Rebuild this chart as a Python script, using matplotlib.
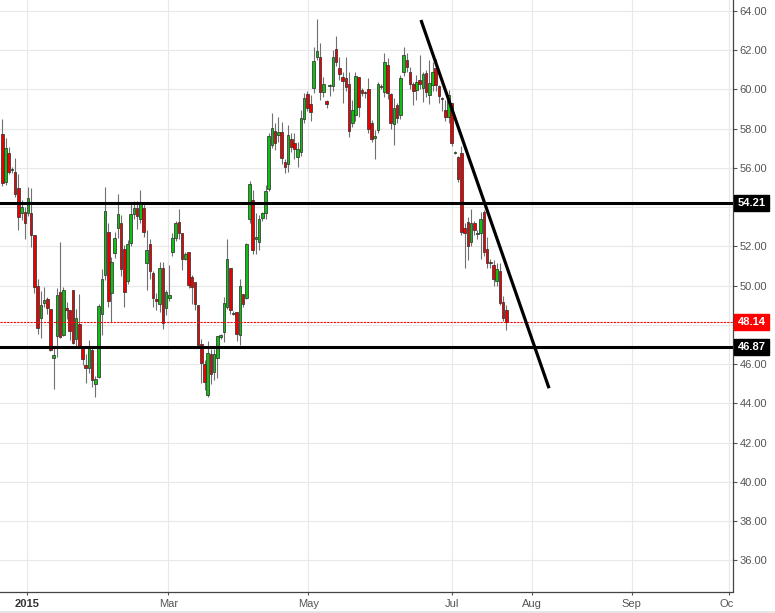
#!/usr/bin/env python

import matplotlib
matplotlib.use('Agg')
import matplotlib.pyplot as plt
from matplotlib.ticker import FuncFormatter
from matplotlib.transforms import Bbox, TransformedBbox
from matplotlib.lines import Line2D


# daily candles, Dec 2014 - Jul 2015
opens = [57.72, 55.29, 56.74, 55.89, 55.77, 55.00, 53.68, 53.76, 53.68, 53.68,
         52.57, 49.97, 48.37, 49.12, 49.34, 48.83, 46.33, 47.42, 49.68, 47.47,
         48.88, 48.78, 49.80, 47.28, 48.03, 46.91, 45.94, 45.82, 46.74, 44.97,
         45.34, 48.57, 50.56, 52.72, 49.60, 51.67, 52.96, 53.17, 51.89, 50.22,
         52.15, 53.64, 53.98, 53.42, 53.98, 51.16, 52.10, 50.67, 49.34, 49.08,
         50.92, 48.88, 49.39, 51.72, 52.45, 53.22, 52.66, 51.38, 51.72, 50.45,
         50.17, 48.99, 47.05, 46.02, 44.44, 46.53, 45.62, 46.33, 47.39, 47.64,
         48.90, 50.92, 48.53, 48.66, 47.50, 49.56, 49.39, 53.42, 54.36, 52.40,
         52.23, 53.47, 53.71, 54.95, 57.16, 57.89, 57.70, 57.84, 56.28, 56.19,
         57.47, 57.25, 56.57, 56.82, 58.47, 59.75, 59.24, 60.09, 61.67, 61.64,
         59.88, 59.41, 60.18, 60.19, 62.06, 61.11, 60.62, 60.56, 60.27, 58.27,
         58.69, 60.62, 59.97, 59.88, 60.00, 58.27, 57.54, 57.93, 60.19, 59.88,
         61.25, 59.75, 58.22, 59.20, 58.69, 60.90, 61.50, 60.90, 60.27, 59.97,
         60.48, 60.05, 60.85, 59.72, 60.23, 61.08, 60.17, 59.59, 58.95, 58.61,
         59.29, 56.77, 56.57, 56.74, 52.96, 53.25, 52.23, 53.17, 52.62, 52.66,
         53.76, 51.89, 51.18, 51.04, 50.24, 50.75, 49.17, 48.74]
highs = [58.49, 57.55, 57.08, 56.06, 56.53, 55.68, 54.36, 54.02, 55.04, 55.00,
         52.57, 50.33, 49.73, 49.93, 49.42, 48.83, 46.87, 49.90, 52.20, 49.93,
         49.17, 48.78, 49.80, 48.83, 49.56, 46.91, 46.53, 47.22, 46.87, 45.38,
         49.08, 50.87, 55.04, 53.17, 51.47, 52.74, 54.66, 53.59, 52.06, 52.31,
         54.19, 54.32, 54.32, 54.87, 54.19, 52.83, 52.40, 50.75, 49.60, 51.21,
         51.21, 49.77, 51.04, 52.66, 53.30, 53.93, 52.66, 51.72, 51.72, 50.53,
         50.17, 48.99, 47.30, 46.20, 47.20, 46.79, 46.79, 47.42, 47.55, 49.43,
         52.40, 50.92, 48.70, 48.66, 50.36, 49.56, 52.15, 55.34, 54.87, 53.68,
         53.60, 53.76, 55.12, 57.76, 58.78, 58.27, 58.58, 58.35, 56.43, 58.18,
         57.79, 57.76, 57.33, 58.95, 59.80, 59.90, 59.71, 62.15, 63.59, 62.35,
         60.65, 59.46, 60.27, 62.01, 62.72, 61.67, 60.90, 61.67, 60.90, 59.46,
         60.90, 60.65, 60.05, 59.90, 60.56, 58.44, 57.93, 60.39, 60.30, 61.84,
         61.59, 59.80, 59.54, 59.29, 60.73, 62.18, 61.87, 61.16, 60.39, 60.73,
         61.75, 60.90, 60.99, 61.50, 61.42, 61.54, 60.22, 59.62, 59.46, 59.97,
         59.30, 56.84, 56.60, 57.12, 53.17, 53.51, 53.93, 53.30, 52.83, 53.76,
         53.85, 52.48, 51.38, 51.33, 51.16, 51.13, 49.46, 48.99]
lows = [55.07, 55.12, 55.68, 55.75, 54.53, 52.86, 53.34, 52.40, 53.54, 51.98,
        49.63, 47.55, 47.33, 48.90, 48.57, 46.67, 44.75, 46.36, 47.35, 47.42,
        48.32, 47.22, 47.05, 46.91, 46.84, 45.94, 45.04, 45.55, 44.83, 44.32,
        45.30, 47.47, 50.30, 48.92, 48.15, 51.40, 52.45, 50.50, 48.92, 50.10,
        52.00, 53.40, 52.91, 53.20, 52.48, 49.80, 50.36, 48.90, 48.74, 48.66,
        47.81, 48.50, 49.20, 51.50, 52.30, 52.40, 50.78, 51.30, 49.90, 49.08,
        48.74, 46.90, 45.04, 44.70, 44.32, 45.00, 45.17, 45.31, 47.30, 47.13,
        48.80, 48.57, 48.50, 47.20, 47.00, 48.90, 49.30, 53.20, 51.60, 51.60,
        51.80, 53.30, 53.40, 54.80, 57.00, 56.90, 57.30, 56.20, 55.72, 55.80,
        56.80, 56.48, 56.06, 56.60, 58.30, 58.90, 58.40, 59.80, 61.50, 59.46,
        59.60, 59.08, 59.66, 59.90, 61.20, 60.50, 59.29, 59.90, 57.60, 58.07,
        58.40, 58.60, 59.66, 59.54, 57.80, 57.33, 56.48, 57.80, 60.00, 59.60,
        59.50, 58.00, 57.16, 58.30, 58.50, 60.70, 60.90, 60.00, 59.20, 59.46,
        60.00, 59.37, 59.60, 59.25, 59.90, 59.90, 59.30, 58.90, 58.40, 58.30,
        57.10, 56.70, 55.30, 52.60, 50.92, 51.33, 52.00, 52.60, 52.40, 51.38,
        51.50, 50.90, 50.90, 50.00, 50.00, 49.00, 48.20, 47.72]
closes = [55.21, 57.04, 55.80, 55.97, 54.65, 53.50, 54.02, 53.20, 54.49, 52.60,
          49.93, 47.84, 49.03, 49.25, 48.88, 46.71, 46.45, 49.54, 47.38, 49.80,
          48.78, 47.69, 47.08, 48.37, 46.91, 46.28, 45.82, 46.87, 45.17, 45.26,
          48.95, 50.36, 53.80, 49.24, 51.21, 52.45, 53.64, 50.87, 49.68, 52.10,
          53.64, 53.98, 53.54, 54.19, 52.74, 51.81, 50.75, 49.39, 49.22, 50.92,
          48.12, 49.68, 49.54, 52.45, 53.17, 52.66, 51.38, 51.60, 50.02, 49.94,
          49.05, 46.98, 46.06, 45.09, 46.58, 45.48, 46.50, 47.42, 47.47, 49.14,
          51.38, 48.78, 48.63, 47.55, 50.00, 49.08, 52.10, 55.17, 51.81, 52.45,
          53.42, 53.68, 54.83, 57.62, 58.06, 57.25, 57.81, 56.52, 56.06, 57.67,
          57.08, 56.94, 56.99, 58.52, 59.54, 59.08, 58.86, 61.45, 61.96, 59.85,
          60.27, 59.24, 60.23, 61.67, 61.42, 60.77, 60.45, 60.14, 57.89, 58.95,
          60.68, 59.12, 59.83, 59.80, 57.96, 57.45, 57.62, 60.27, 60.14, 61.42,
          59.83, 58.27, 59.03, 58.52, 60.56, 61.75, 61.16, 60.27, 59.93, 60.36,
          60.27, 60.77, 59.88, 60.31, 60.90, 60.23, 59.66, 59.53, 58.61, 59.71,
          57.28, 56.79, 55.43, 52.74, 52.66, 52.03, 53.17, 52.83, 52.66, 53.42,
          51.72, 51.16, 51.13, 50.36, 50.84, 49.12, 48.37, 48.14]

# month ticks (in candle index units) and their labels
tick_pos = [7.8, 51.7, 95.3, 140.0, 164.9, 196.1, 226.2]
tick_labels = ['2015', 'Mar', 'May', 'Jul', 'Aug', 'Sep', 'Oct']

# drawn levels and the falling trendline (candle index, price)
support_levels = [54.21, 46.87]
last_price = 48.14
trend_x = [130.4, 170.3]
trend_y = [63.54, 44.77]

# axis labels hidden behind the price tags
hidden_labels = [54.0, 48.0]


def price_tag(ax, value, color):
    ax.annotate('%.2f' % value, xy=(1, value), xycoords=('axes fraction', 'data'),
                xytext=(3.3, 0), textcoords='offset points', ha='left', va='center',
                color='white', fontsize=8, fontweight='bold', zorder=10,
                annotation_clip=False,
                bbox=dict(boxstyle='square,pad=0.3', fc=color, ec=color))


def ylabel_fmt(v, pos):
    if any(abs(v - h) < 1e-6 for h in hidden_labels):
        return ''
    return '%.2f' % v


def main():
    plt.rcParams['font.family'] = ['Liberation Sans', 'DejaVu Sans']

    fig = plt.figure(figsize=(7.75, 6.13), dpi=100)
    ax = fig.add_axes([0, 21.5 / 613, 733 / 775, 591.5 / 613])

    # candles
    x = list(range(len(opens)))
    up = '#10c010'
    down = '#ee0000'
    colors = [up if c >= o else down for o, c in zip(opens, closes)]
    ax.vlines(x, lows, highs, color='#707070', linewidth=0.8, zorder=2)
    bodies = [max(abs(c - o), 0.06) for o, c in zip(opens, closes)]
    bottoms = [min(o, c) for o, c in zip(opens, closes)]
    ax.bar(x, bodies, bottom=bottoms, width=0.8, color=colors,
           edgecolor='#333333', linewidth=0.55, zorder=3)

    # levels
    for lvl in support_levels:
        ax.axhline(lvl, color='black', linewidth=2.2, zorder=4)
    ax.axhline(last_price, color='red', linewidth=0.8, linestyle=(0, (2, 1)), zorder=4)
    ax.plot(trend_x, trend_y, color='black', linewidth=2.3, zorder=5,
            solid_capstyle='butt')

    # axes and grid
    ax.set_xlim(-0.72, 227.6)
    ax.set_ylim(34.41, 64.56)
    ax.set_yticks([36 + 2 * k for k in range(15)])
    ax.yaxis.set_major_formatter(FuncFormatter(ylabel_fmt))
    ax.yaxis.tick_right()
    ax.tick_params(axis='y', length=3, width=0.8, color='#555555', labelcolor='#555555',
                   labelsize=8, pad=1.5)
    ax.set_xticks(tick_pos)
    ax.set_xticklabels(tick_labels)
    ax.tick_params(axis='x', length=2.5, width=0.8, color='#555555',
                   labelcolor='#555555', labelsize=8, pad=3)
    ax.get_xticklabels()[0].set_fontweight('bold')
    ax.get_xticklabels()[0].set_color('#333333')
    ax.grid(True, color='#e8e8e8', linewidth=0.8, zorder=0)
    ax.set_axisbelow(True)

    # "Oct" is cut off at the right edge of the plot
    clip = TransformedBbox(Bbox.from_extents(0, 0, 733 / 775, 1), fig.transFigure)
    last = ax.get_xticklabels()[-1]
    last.set_clip_box(clip)
    last.set_clip_on(True)

    for side in ['left', 'top']:
        ax.spines[side].set_visible(False)
    for side in ['right', 'bottom']:
        ax.spines[side].set_color('#444444')
        ax.spines[side].set_linewidth(0.9)

    # price tags on the right axis
    price_tag(ax, support_levels[0], 'black')
    price_tag(ax, last_price, '#ff0000')
    price_tag(ax, support_levels[1], 'black')

    # thin grey frame line at the bottom of the picture
    fig.add_artist(Line2D([0, 1], [1.2 / 613, 1.2 / 613], transform=fig.transFigure,
                          color='#e4e4e4', linewidth=2))

    plt.savefig('out.png', dpi=100)


if __name__ == "__main__":
    main()
